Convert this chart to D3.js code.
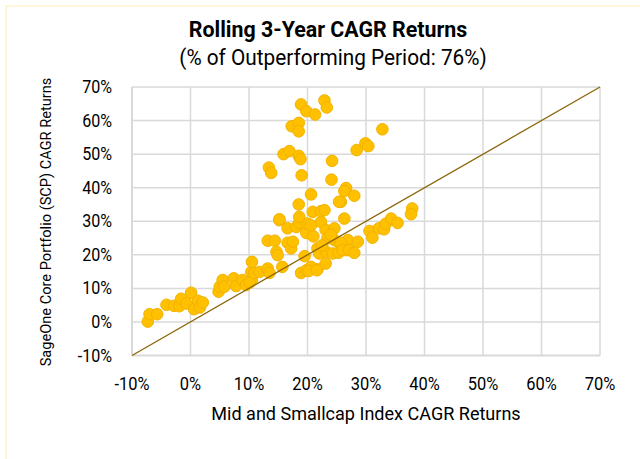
<!DOCTYPE html>
<html>
<head>
<meta charset="utf-8">
<script src="https://cdn.jsdelivr.net/npm/d3@7"></script>
<style>
  body { margin: 0; background: #fff; }
  text { font-family: "Roboto", "Liberation Sans", sans-serif; fill: #000; }
</style>
</head>
<body>
<div id="chart"></div>
<script>
// tick values (percent)
var xTicks = [-10, 0, 10, 20, 30, 40, 50, 60, 70];
var yTicks = [-10, 0, 10, 20, 30, 40, 50, 60, 70];

// Mid and Smallcap index CAGR (x) vs SageOne CAGR (y), percent
var xVals = [-7.3, -7.0, -5.7, -4.1, -2.8, -1.9, -1.6, -0.7, 0.1, 0.6, 1.3, 1.6, 2.1,
  4.8, 5.0, 5.5, 5.8, 7.4, 7.8, 8.9, 9.5, 10.5, 10.4, 10.1, 10.5, 10.9, 11.8,
  13.2, 13.5, 13.2, 14.4, 14.7, 14.9, 15.7, 15.2, 16.6, 16.6, 17.2, 17.5, 18.1, 18.6,
  18.9, 19.5, 19.8, 19.8, 20.0, 20.6, 20.6, 21.7, 21.7, 22.0, 22.3, 23.1, 23.1, 23.2,
  23.4, 24.3, 24.6, 24.6, 25.3, 25.4, 26.6, 26.9, 25.7, 26.3, 25.7, 26.0, 27.1, 28.0,
  28.6, 30.6, 31.1, 32.2, 33.1, 33.4, 34.3, 35.4, 37.9, 37.7, 20.2, 21.6,
  18.9, 19.8, 21.3, 22.9, 23.3, 17.3, 18.5, 18.5, 32.8, 15.9, 16.9, 18.5, 18.8,
  28.4, 29.9, 30.4, 13.4, 13.8, 19.0, 24.2, 24.1, 20.6, 18.5, 26.6, 26.3, 28.0,
  25.4, 15.2, 18.6, 20.9, 22.3, 22.9, 21.0, 24.0, 22.5];
var yVals = [0.1, 2.3, 2.3, 5.1, 4.8, 4.7, 6.9, 5.5, 8.7, 3.8, 6.3, 4.3, 5.8,
  9.0, 10.5, 12.5, 10.5, 13.0, 10.7, 12.5, 11.0, 12.5, 14.9, 11.7, 17.9, 14.6, 14.9,
  15.9, 14.6, 24.2, 24.2, 20.9, 19.9, 16.4, 30.3, 27.9, 23.6, 21.9, 23.9, 28.3, 29.5,
  14.6, 19.6, 15.4, 26.5, 29.3, 16.4, 28.8, 15.7, 21.9, 20.4, 29.8, 17.4, 27.4, 20.9,
  24.9, 20.4, 27.9, 24.4, 20.6, 23.6, 21.4, 24.4, 35.8, 30.8, 23.6, 21.4, 21.4, 20.6,
  23.9, 27.1, 25.1, 27.9, 27.6, 29.3, 30.8, 29.5, 33.8, 32.1, 15.2, 15.4,
  64.8, 62.8, 61.8, 66.0, 63.9, 58.3, 59.3, 56.8, 57.4, 50.0, 50.9, 49.5, 48.5,
  51.2, 53.2, 52.4, 46.0, 44.4, 43.7, 48.0, 42.4, 38.0, 35.0, 39.9, 39.0, 37.6,
  35.8, 30.6, 31.3, 32.8, 33.0, 33.3, 25.5, 26.0, 22.8];

var width = 640, height = 459;
var margin = {top: 87, right: 40, bottom: 104, left: 132};

var svg = d3.select("#chart").append("svg")
    .attr("width", width)
    .attr("height", height);

// faint outer frame
svg.append("rect")
    .attr("x", 6).attr("y", 6)
    .attr("width", 640).attr("height", 470)
    .attr("fill", "none")
    .attr("stroke", "#FFF2CC")
    .attr("stroke-width", 1.5);

var x = d3.scaleLinear().domain([-10, 70]).range([margin.left, 600]);
var y = d3.scaleLinear().domain([-10, 70]).range([355.5, margin.top]);

// gridlines
svg.append("g").selectAll("line.v")
    .data(xTicks)
    .enter().append("line")
    .attr("x1", function(d) { return x(d); })
    .attr("x2", function(d) { return x(d); })
    .attr("y1", y(70)).attr("y2", y(-10))
    .attr("stroke", "#D9D9D9")
    .attr("stroke-width", function(d) { return d === -10 ? 2 : 1.5; });

svg.append("g").selectAll("line.h")
    .data(yTicks)
    .enter().append("line")
    .attr("x1", x(-10)).attr("x2", x(70))
    .attr("y1", function(d) { return y(d); })
    .attr("y2", function(d) { return y(d); })
    .attr("stroke", "#D9D9D9")
    .attr("stroke-width", function(d) { return d === -10 ? 2 : 1.5; });

// tick labels (condensed look via horizontal squeeze)
svg.append("g").selectAll("text")
    .data(yTicks)
    .enter().append("text")
    .attr("transform", function(d) { return "translate(112," + (y(d) + 6) + ") scale(0.92,1)"; })
    .attr("text-anchor", "end")
    .style("font-size", "17.5px")
    .text(function(d) { return d + "%"; });

svg.append("g").selectAll("text")
    .data(xTicks)
    .enter().append("text")
    .attr("transform", function(d) { return "translate(" + x(d) + ",390) scale(0.94,1)"; })
    .attr("text-anchor", "middle")
    .style("font-size", "17.5px")
    .text(function(d) { return d + "%"; });

// points
svg.append("g").selectAll("circle")
    .data(xVals.map(function(v, i) { return [v, yVals[i]]; }))
    .enter().append("circle")
    .attr("cx", function(d) { return x(d[0]); })
    .attr("cy", function(d) { return y(d[1]); })
    .attr("r", 5.8)
    .attr("fill", "#FFC000")
    .attr("stroke", "#F2B300")
    .attr("stroke-width", 1);

// y = x reference line
svg.append("line")
    .attr("x1", x(-10)).attr("y1", y(-10))
    .attr("x2", x(70)).attr("y2", y(70))
    .attr("stroke", "#8B6508")
    .attr("stroke-width", 1.3);

// titles
svg.append("text")
    .attr("transform", "translate(328,37) scale(0.93,1)")
    .attr("text-anchor", "middle")
    .style("font-size", "23px")
    .style("font-weight", "bold")
    .text("Rolling 3-Year CAGR Returns");

svg.append("text")
    .attr("transform", "translate(333,65) scale(0.945,1)")
    .attr("text-anchor", "middle")
    .style("font-size", "22px")
    .text("(% of Outperforming Period: 76%)");

svg.append("text")
    .attr("transform", "translate(366,420) scale(0.95,1)")
    .attr("text-anchor", "middle")
    .style("font-size", "19px")
    .text("Mid and Smallcap Index CAGR Returns");

svg.append("text")
    .attr("transform", "translate(51,222) rotate(-90)")
    .attr("text-anchor", "middle")
    .style("font-size", "14.6px")
    .text("SageOne Core Portfolio (SCP) CAGR Returns");
</script>
</body>
</html>
